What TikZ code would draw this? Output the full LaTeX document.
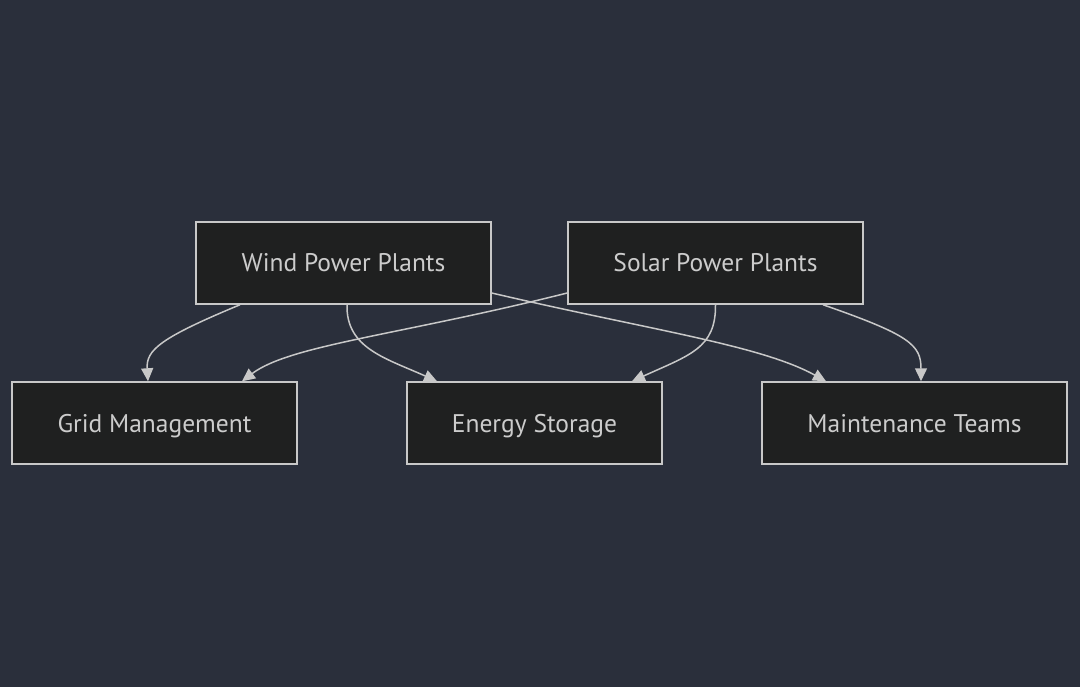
\documentclass[tikz,border=0pt]{standalone}
\usepackage{fontspec}
\setmainfont{PT Sans}
\usetikzlibrary{arrows.meta}
\definecolor{bg}{HTML}{2A2F3B}
\definecolor{boxfill}{HTML}{1F2020}
\definecolor{boxline}{HTML}{C8C8C8}
\definecolor{txt}{HTML}{CCCCCC}
\definecolor{edge}{HTML}{C8C8C8}
\begin{document}
\begin{tikzpicture}[x=1pt,y=-1pt,
  box/.style={draw=boxline,fill=boxfill,line width=1.5pt,inner sep=0pt,minimum height=82pt,
    text=txt,font=\fontsize{25.5}{30}\selectfont,text height=18pt,text depth=0pt},
  link/.style={draw=edge,line width=1.5pt,-{Triangle[length=13pt,width=12pt]}}]
\fill[bg] (0,0) rectangle (1080,687);
\useasboundingbox (0,0) rectangle (1080,687);
\node[box,minimum width=295pt] (wind) at (343.5,263) {Wind Power Plants};
\node[box,minimum width=295pt] (solar) at (715.5,263) {Solar Power Plants};
\node[box,minimum width=285pt] (grid) at (154.5,423) {Grid Management};
\node[box,minimum width=255pt] (energy) at (534.5,423) {Energy Storage};
\node[box,minimum width=305pt] (maint) at (914.5,423) {Maintenance Teams};
\draw[link] ([xshift=-103.5pt]wind.south) .. controls (160,338) and (146,350) .. ([xshift=-6.5pt]grid.north);
\draw[link] ([xshift=3.5pt]wind.south) .. controls (346,348) and (385,358) .. ([xshift=-97.5pt]energy.north);
\draw[link] ([yshift=-30pt]wind.east) .. controls (650,330) and (760,345) .. ([xshift=-88.5pt]maint.north);
\draw[link] ([yshift=-30pt]solar.west) .. controls (400,335) and (290,345) .. ([xshift=87.5pt]grid.north);
\draw[link] (solar.south) .. controls (716,348) and (690,355) .. ([xshift=97.5pt]energy.north);
\draw[link] ([xshift=107.5pt]solar.south) .. controls (910,335) and (921,345) .. ([xshift=6.5pt]maint.north);
\end{tikzpicture}
\end{document}
